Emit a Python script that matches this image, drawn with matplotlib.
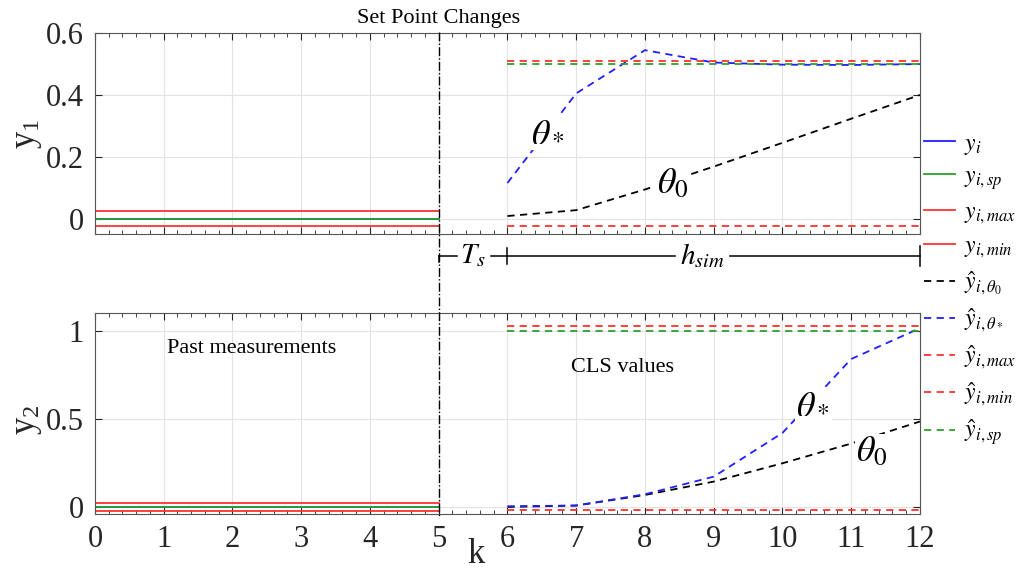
import matplotlib
matplotlib.use('Agg')
import matplotlib.pyplot as plt
from matplotlib.lines import Line2D
from matplotlib.transforms import blended_transform_factory

plt.rcParams['font.family'] = ['Liberation Serif', 'DejaVu Serif']
plt.rcParams['mathtext.fontset'] = 'stix'

# past window and prediction horizon
k_past = [0, 5]
k_pred = [6, 7, 8, 9, 10, 11, 12]

# output 1
y1_meas = [0.0, 0.0]
y1_sp = [0.0, 0.0]
y1_max = [0.025, 0.025]
y1_min = [-0.025, -0.025]
y1_theta0 = [0.008, 0.027, 0.094, 0.168, 0.245, 0.323, 0.40]
y1_thetas = [0.115, 0.405, 0.545, 0.505, 0.498, 0.497, 0.50]
y1_hat_max = [0.51] * 7
y1_hat_min = [-0.025] * 7
y1_hat_sp = [0.50] * 7

# output 2
y2_meas = [0.0, 0.0]
y2_sp = [0.0, 0.0]
y2_max = [0.025, 0.025]
y2_min = [-0.025, -0.025]
y2_theta0 = [0.0, 0.008, 0.068, 0.144, 0.248, 0.36, 0.485]
y2_thetas = [0.004, 0.008, 0.072, 0.172, 0.42, 0.84, 1.015]
y2_hat_max = [1.027] * 7
y2_hat_min = [-0.019] * 7
y2_hat_sp = [1.0] * 7

RED = '#ff3030'
GRN = '#2ca02c'
BLU = '#1f1fff'
lw = 1.3
dash = (0, (4, 3))

fig = plt.figure(figsize=(10.21, 5.72), dpi=100)
ax1 = fig.add_axes([0.093, 0.591, 0.808, 0.351])
ax2 = fig.add_axes([0.093, 0.1014, 0.808, 0.351])


def draw(ax, meas, sp, ymax, ymin, th0, ths, hmax, hmin, hsp):
    ax.plot(k_past, meas, color=BLU, lw=lw)
    ax.plot(k_past, sp, color=GRN, lw=lw)
    ax.plot(k_past, ymax, color=RED, lw=lw)
    ax.plot(k_past, ymin, color=RED, lw=lw)
    ax.plot(k_pred, th0, color='k', lw=lw, linestyle=dash)
    ax.plot(k_pred, ths, color=BLU, lw=lw, linestyle=dash)
    ax.plot(k_pred, hmax, color=RED, lw=lw, linestyle=dash)
    ax.plot(k_pred, hmin, color=RED, lw=lw, linestyle=dash)
    ax.plot(k_pred, hsp, color=GRN, lw=lw, linestyle=dash)
    ax.set_xlim(0, 12)
    ax.set_xticks(range(13))
    ax.set_xticks([i * 0.2 for i in range(61)], minor=True)
    ax.grid(True, color='#e3e3e3', lw=0.8)
    ax.set_axisbelow(True)
    ax.tick_params(which='both', direction='in', top=True, right=True,
                   labelsize=22, colors='#262626', pad=8)
    ax.tick_params(which='major', length=5)
    ax.tick_params(which='minor', length=3)
    for s in ax.spines.values():
        s.set_color('#555555')


draw(ax1, y1_meas, y1_sp, y1_max, y1_min, y1_theta0, y1_thetas,
     y1_hat_max, y1_hat_min, y1_hat_sp)
draw(ax2, y2_meas, y2_sp, y2_max, y2_min, y2_theta0, y2_thetas,
     y2_hat_max, y2_hat_min, y2_hat_sp)

ax1.set_ylim(-0.05, 0.6)
ax1.set_yticks([0, 0.2, 0.4, 0.6])
ax1.set_yticklabels(['0', '0.2', '0.4', '0.6'])
ax1.tick_params(labelbottom=False)
ax2.set_ylim(-0.04, 1.1)
ax2.set_yticks([0, 0.5, 1])
ax2.set_yticklabels(['0', '0.5', '1'])

ax1.set_ylabel(r'$\mathregular{y_1}$', fontsize=25, color='#262626', va='center')
ax2.set_ylabel(r'$\mathregular{y_2}$', fontsize=25, color='#262626', va='center')
ax1.yaxis.set_label_coords(-0.082, 0.5)
ax2.yaxis.set_label_coords(-0.082, 0.47)
ax2.text(5.55, -0.2, 'k', fontsize=25, color='#262626', ha='center', va='center',
         transform=blended_transform_factory(ax2.transData, ax2.transAxes))

# curve labels with white boxes
box = dict(facecolor='white', edgecolor='none', pad=1)
ax1.text(6.59, 0.28, r'$\theta_*$', fontsize=26, ha='center', va='center', bbox=box)
ax1.text(8.4, 0.11, r'$\theta_0$', fontsize=26, ha='center', va='center', bbox=box)
ax2.text(10.45, 0.58, r'$\theta_*$', fontsize=26, ha='center', va='center', bbox=box)
ax2.text(11.3, 0.31, r'$\theta_0$', fontsize=26, ha='center', va='center', bbox=box)

ax2.text(2.28, 0.9, 'Past measurements', fontsize=16, ha='center', va='center')
ax2.text(7.68, 0.79, 'CLS values', fontsize=16, ha='center', va='center')
ax1.text(5, 1.075, 'Set Point Changes', fontsize=16, ha='center', va='center',
         transform=blended_transform_factory(ax1.transData, ax1.transAxes))

# set point change instant
vtr = blended_transform_factory(ax1.transData, fig.transFigure)
fig.add_artist(Line2D([5, 5], [1 - 32 / 572, 1 - 518 / 572], transform=vtr,
                      color='k', lw=1, linestyle='-.'))

# sampling time and horizon brackets
btr = blended_transform_factory(ax1.transData, ax1.transAxes)
yb = -0.11
seg = dict(color='k', lw=1.1, clip_on=False, transform=btr)
ax1.plot([5, 5.27], [yb, yb], **seg)
ax1.plot([5.76, 8.44], [yb, yb], **seg)
ax1.plot([9.24, 12], [yb, yb], **seg)
ax1.plot([6, 6], [yb - 0.04, yb + 0.04], **seg)
ax1.plot([12, 12], [yb - 0.05, yb + 0.05], **seg)
ax1.plot([5, 5], [yb - 0.03, yb], **seg)
ax1.text(5.5, yb, r'$T_s$', fontsize=21, ha='center', va='center', transform=btr)
ax1.text(8.83, yb, r'$h_{sim}$', fontsize=21, ha='center', va='center', transform=btr)

handles = [
    Line2D([], [], color=BLU, lw=lw),
    Line2D([], [], color=GRN, lw=lw),
    Line2D([], [], color=RED, lw=lw),
    Line2D([], [], color=RED, lw=lw),
    Line2D([], [], color='k', lw=lw, linestyle=dash),
    Line2D([], [], color=BLU, lw=lw, linestyle=dash),
    Line2D([], [], color=RED, lw=lw, linestyle=dash),
    Line2D([], [], color=RED, lw=lw, linestyle=dash),
    Line2D([], [], color=GRN, lw=lw, linestyle=dash),
]
labels = [r'$y_i$', r'$y_{i,sp}$', r'$y_{i,max}$', r'$y_{i,min}$',
          r'$\hat{y}_{i,\theta_0}$', r'$\hat{y}_{i,\theta_*}$',
          r'$\hat{y}_{i,max}$', r'$\hat{y}_{i,min}$', r'$\hat{y}_{i,sp}$']
fig.legend(handles, labels, loc='upper left', bbox_to_anchor=(0.905, 1 - 133 / 572),
           frameon=False, fontsize=17, handlelength=1.3, handletextpad=0.4,
           labelspacing=0.41, borderpad=0, borderaxespad=0)

fig.savefig('out.png', dpi=100)
